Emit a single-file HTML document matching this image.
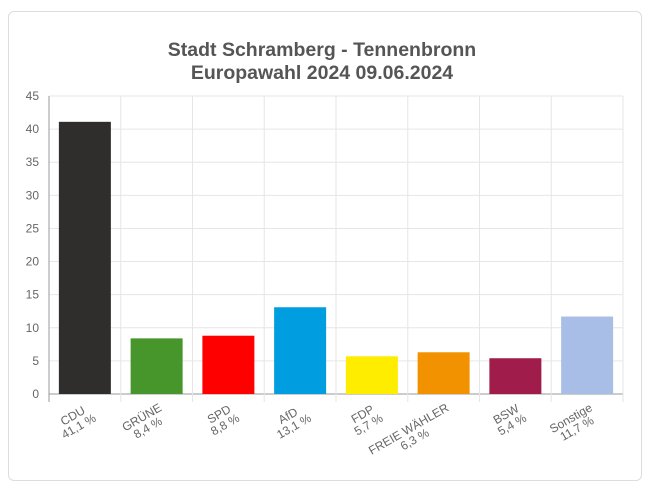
<!DOCTYPE html>
<html><head><meta charset="utf-8"><style>
html,body{margin:0;background:#fff;width:654px;height:463px;overflow:hidden;font-family:"Liberation Sans",Arial,sans-serif}
#card{position:absolute;left:8px;top:11px;width:634px;height:470px;border:1px solid #ddd;border-radius:6px;box-sizing:border-box}
svg{position:absolute;left:0;top:0}
</style></head><body>
<div id="card"></div>
<svg id="chart" width="654" height="463">
<text x="322" y="56" text-anchor="middle" font-size="19.5" font-weight="bold" fill="#555">Stadt Schramberg - Tennenbronn</text>
<text x="322" y="79" text-anchor="middle" font-size="19.5" font-weight="bold" fill="#555">Europawahl 2024 09.06.2024</text>
</svg>
<script>
const categories=["CDU","GRÜNE","SPD","AfD","FDP","FREIE WÄHLER","BSW","Sonstige"];
const values=[41.1,8.4,8.8,13.1,5.7,6.3,5.4,11.7];
const valueLabels=["41,1 %","8,4 %","8,8 %","13,1 %","5,7 %","6,3 %","5,4 %","11,7 %"];
const colors=["#2f2e2c","#46962b","#ff0000","#009ee0","#ffed00","#f39200","#a01c4a","#a9bee6"];
const yTicks=[0,5,10,15,20,25,30,35,40,45];
const NS="http://www.w3.org/2000/svg",svg=document.getElementById('chart');
const X0=49,X1=623,Y0=394,Y1=96,yMax=45;
const y=v=>Y0-(v/yMax)*(Y0-Y1);
const bw=(X1-X0)/categories.length;
const xc=i=>X0+bw*(i+0.5);
function mk(t,a,p){const e=document.createElementNS(NS,t);for(const k in a)e.setAttribute(k,a[k]);(p||svg).appendChild(e);return e;}
yTicks.forEach(t=>{
 const l=mk('line',{x1:X0,x2:X1,y1:y(t),y2:y(t),stroke:t===0?'#999':'#e6e6e6','stroke-width':1});
 
 
 const tx=mk('text',{x:X0-10,y:y(t)+4,'text-anchor':'end','font-size':12,fill:'#666'});tx.textContent=t;
 
 
});
for(let i=0;i<=categories.length;i++){
 const x=X0+bw*i;
 const l=mk('line',{x1:x,x2:x,y1:Y1,y2:Y0+8,stroke:i===0?'#999':'#e6e6e6','stroke-width':1});
 
 
}
categories.forEach((c,i)=>{
 const w=52;
 const r=mk('rect',{x:xc(i)-w/2,y:y(values[i]),width:w,height:Y0-y(values[i]),fill:colors[i]});
 
 
 const g=mk('g',{});
 
 
 const t1=mk('text',{'font-size':12,fill:'#666','text-anchor':'middle'},g);t1.textContent=c;
 const t2=mk('text',{'font-size':12,fill:'#666','text-anchor':'middle',y:12},g);t2.textContent=valueLabels[i];
 const wmax=Math.max(t1.getComputedTextLength(),t2.getComputedTextLength());
 t1.setAttribute('x',-wmax/2);t2.setAttribute('x',-wmax/2);
 g.setAttribute('transform',`translate(${xc(i)+6},${Y0+16}) rotate(-30)`);
});
</script>
</body></html>
